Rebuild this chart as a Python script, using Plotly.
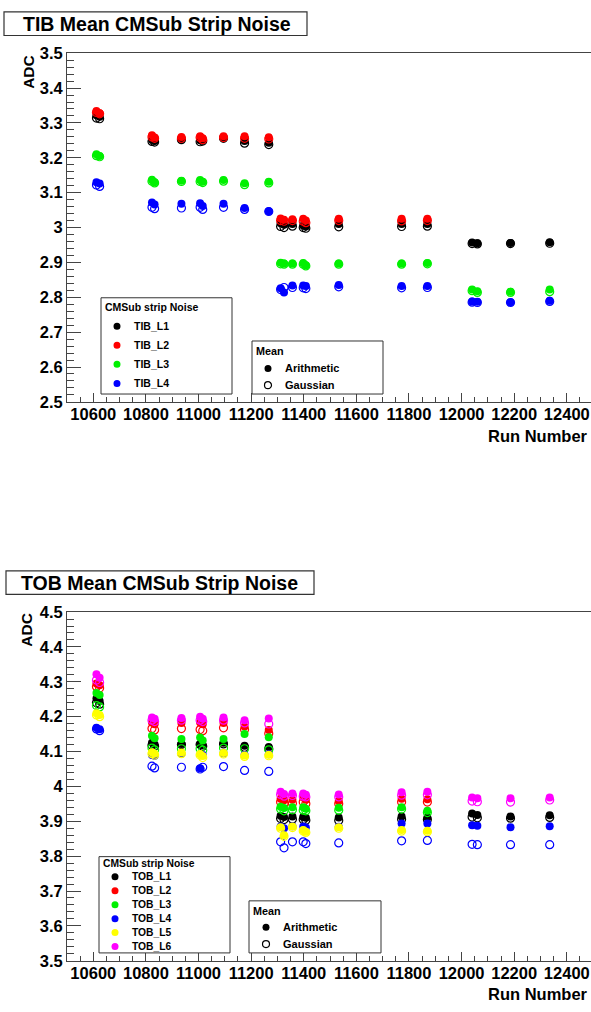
import plotly.graph_objects as go

W, H = 591, 1012

# ---------------- data ----------------
RUNS = [10612, 10624, 10823, 10833, 10935, 11006, 11016, 11095, 11175, 11267,
        11312, 11325, 11357, 11398, 11408, 11533, 11772, 11870, 12040, 12060, 12186, 12335]

TIB_L1_ARITH = [3.322, 3.318, 3.252, 3.248, 3.255, 3.250, 3.252, 3.258, 3.248, 3.243,
                3.012, 3.008, 3.010, 3.006, 3.003, 3.010, 3.010, 3.010, 2.957, 2.955, 2.956, 2.958]
TIB_L1_GAUSS = [3.314, 3.312, 3.247, 3.245, 3.252, 3.246, 3.248, 3.256, 3.242, 3.238,
                3.003, 3.000, 3.004, 3.000, 2.998, 3.002, 3.003, 3.004, 2.954, 2.953, 2.954, 2.955]
TIB_L2_ARITH = [3.334, 3.328, 3.265, 3.258, 3.260, 3.262, 3.256, 3.262, 3.262, 3.259,
                3.026, 3.022, 3.024, 3.025, 3.020, 3.025, 3.025, 3.025, None, None, None, None]
TIB_L2_GAUSS = [3.330, 3.326, 3.260, 3.256, 3.256, 3.258, 3.252, 3.258, 3.256, 3.254,
                3.020, 3.018, 3.020, 3.018, 3.014, 3.020, 3.019, 3.020, None, None, None, None]
TIB_L3_ARITH = [3.210, 3.205, 3.137, 3.130, 3.134, 3.136, 3.131, 3.136, 3.127, 3.131,
                2.899, 2.897, 2.897, 2.898, 2.892, 2.897, 2.897, 2.898, 2.822, 2.817, 2.816, 2.822]
TIB_L3_GAUSS = [3.206, 3.203, 3.133, 3.128, 3.132, 3.132, 3.129, 3.133, 3.123, 3.128,
                2.896, 2.895, 2.895, 2.895, 2.890, 2.895, 2.895, 2.896, 2.819, 2.814, 2.814, 2.816]
TIB_L4_ARITH = [3.130, 3.126, 3.072, 3.066, 3.068, 3.070, 3.062, 3.068, 3.056, 3.047,
                2.826, 2.814, 2.834, 2.834, 2.832, 2.835, 2.832, 2.832, 2.788, 2.787, 2.786, 2.790]
TIB_L4_GAUSS = [3.122, 3.118, 3.058, 3.054, 3.056, 3.058, 3.052, 3.058, 3.052, 3.046,
                2.822, 2.828, 2.828, 2.827, 2.825, 2.830, 2.827, 2.828, 2.786, 2.785, 2.785, 2.788]

TOB_L1_ARITH = [4.252, 4.245, 4.125, 4.120, 4.122, 4.122, 4.118, 4.125, 4.117, 4.113,
                3.916, 3.912, 3.914, 3.912, 3.910, 3.911, 3.914, 3.911, 3.922, 3.918, 3.914, 3.917]
TOB_L1_GAUSS = [4.240, 4.236, 4.118, 4.115, 4.120, 4.120, 4.115, 4.122, 4.112, 4.108,
                3.908, 3.905, 3.906, 3.905, 3.903, 3.902, 3.906, 3.905, 3.912, 3.910, 3.909, 3.911]
TOB_L2_ARITH = [4.295, 4.290, 4.183, 4.178, 4.182, 4.183, 4.178, 4.182, 4.172, 4.162,
                3.965, 3.960, 3.962, 3.968, 3.962, 3.958, 3.965, 3.963, None, None, None, None]
TOB_L2_GAUSS = [4.286, 4.282, 4.166, 4.162, 4.166, 4.163, 4.160, 4.168, 4.163, 4.152,
                3.955, 3.950, 3.952, 3.955, 3.950, 3.950, 3.955, 3.955, None, None, None, None]
TOB_L3_ARITH = [4.268, 4.262, 4.145, 4.138, 4.136, 4.140, 4.132, 4.136, 4.150, 4.141,
                3.942, 3.938, 3.940, 3.940, 3.936, 3.939, 3.940, 3.930, None, None, None, None]
TOB_L3_GAUSS = [4.232, 4.228, 4.110, 4.105, 4.108, 4.108, 4.104, 4.110, 4.108, 4.105,
                3.935, 3.930, 3.933, 3.932, 3.930, 3.932, 3.935, 3.925, None, None, None, None]
TOB_L4_ARITH = [4.168, 4.164, 4.090, 4.088, 4.094, 4.052, 4.090, 4.095, 4.090, 4.092,
                3.885, 3.880, 3.886, 3.885, 3.882, 3.884, 3.894, 3.894, 3.889, 3.887, 3.883, 3.886]
TOB_L4_GAUSS = [4.165, 4.160, 4.058, 4.053, 4.055, 4.050, 4.055, 4.057, 4.046, 4.043,
                3.841, 3.824, 3.841, 3.841, 3.836, 3.838, 3.844, 3.845, 3.834, 3.833, 3.833, 3.833]
TOB_L5_ARITH = [4.210, 4.205, 4.098, 4.094, 4.097, 4.093, 4.087, 4.096, 4.089, 4.091,
                3.883, 3.860, 3.885, 3.875, 3.870, 3.883, 3.875, 3.873, None, None, None, None]
TOB_L5_GAUSS = [4.205, 4.200, 4.094, 4.090, 4.094, 4.090, 4.083, 4.093, 4.086, 4.088,
                3.880, 3.857, 3.882, 3.872, 3.868, 3.880, 3.872, 3.870, None, None, None, None]
TOB_L6_ARITH = [4.322, 4.312, 4.198, 4.194, 4.196, 4.200, 4.194, 4.198, 4.190, 4.195,
                3.985, 3.978, 3.980, 3.980, 3.976, 3.977, 3.983, 3.985, 3.968, 3.966, 3.966, 3.968]
TOB_L6_GAUSS = [4.305, 4.298, 4.190, 4.186, 4.190, 4.190, 4.186, 4.190, 4.182, 4.179,
                3.977, 3.972, 3.974, 3.972, 3.970, 3.970, 3.975, 3.976, 3.958, 3.956, 3.955, 3.961]

TIB_NAMES = ["TIB_L1", "TIB_L2", "TIB_L3", "TIB_L4"]
TOB_NAMES = ["TOB_L1", "TOB_L2", "TOB_L3", "TOB_L4", "TOB_L5", "TOB_L6"]
COLORS = ["#000000", "#ff0000", "#00f000", "#0000ff", "#ffff00", "#ff00ff"]
MEAN_NAMES = ["Arithmetic", "Gaussian"]

TIB_SERIES = [(TIB_L1_ARITH, TIB_L1_GAUSS), (TIB_L2_ARITH, TIB_L2_GAUSS),
              (TIB_L3_ARITH, TIB_L3_GAUSS), (TIB_L4_ARITH, TIB_L4_GAUSS)]
TOB_SERIES = [(TOB_L1_ARITH, TOB_L1_GAUSS), (TOB_L2_ARITH, TOB_L2_GAUSS),
              (TOB_L3_ARITH, TOB_L3_GAUSS), (TOB_L4_ARITH, TOB_L4_GAUSS),
              (TOB_L5_ARITH, TOB_L5_GAUSS), (TOB_L6_ARITH, TOB_L6_GAUSS)]

FONT = "Liberation Sans"


def px(x):
    return x / W


def py(y):
    return 1 - y / H


fig = go.Figure()

for (series, names, xa, ya) in [(TIB_SERIES, TIB_NAMES, "x", "y"),
                                (TOB_SERIES, TOB_NAMES, "x2", "y2")]:
    for i, (ar, ga) in enumerate(series):
        c = COLORS[i]
        fig.add_trace(go.Scatter(x=RUNS, y=ar, mode="markers", name=names[i],
                                 xaxis=xa, yaxis=ya, showlegend=False,
                                 marker=dict(symbol="circle", size=8, color=c, line=dict(width=0))))
        fig.add_trace(go.Scatter(x=RUNS, y=ga, mode="markers", name=names[i] + " Gaussian",
                                 xaxis=xa, yaxis=ya, showlegend=False,
                                 marker=dict(symbol="circle-open", size=8, color=c, line=dict(width=1.2, color=c))))

tickfont = dict(family=FONT, size=16.5, color="black", weight="bold")
axcol = "#444444"


def xaxis_cfg(anchor):
    return dict(domain=[px(67), 1], range=[10500, 12492], anchor=anchor,
                showgrid=False, zeroline=False, showline=True, linecolor=axcol, linewidth=1,
                mirror=True, ticks="inside", ticklen=9, tickcolor=axcol, tickwidth=1,
                tick0=10600, dtick=200, tickformat="d", tickfont=tickfont,
                ticklabelstandoff=-3,
                minor=dict(ticks="inside", ticklen=5, dtick=50, tickcolor=axcol, showgrid=False))


def yaxis_cfg(anchor, dom, rng):
    return dict(domain=dom, range=rng, anchor=anchor,
                showgrid=False, zeroline=False, showline=True, linecolor=axcol, linewidth=1,
                ticks="inside", ticklen=14, tickcolor=axcol, tickwidth=1,
                dtick=0.1, tickfont=tickfont,
                minor=dict(ticks="inside", ticklen=7, dtick=0.02, tickcolor=axcol, showgrid=False))


fig.update_layout(
    width=W, height=H, margin=dict(l=0, r=0, t=0, b=0),
    paper_bgcolor="white", plot_bgcolor="white", showlegend=False,
    xaxis=xaxis_cfg("y"),
    yaxis=yaxis_cfg("x", [py(400), py(45)], [2.5, 3.5]),
    xaxis2=xaxis_cfg("y2"),
    yaxis2=yaxis_cfg("x2", [py(969), py(614)], [3.5, 4.5]),
)

shapes = []
annotations = []


def box(x0, y0, x1, y1, lw=1):
    shapes.append(dict(type="rect", xref="paper", yref="paper", x0=px(x0), x1=px(x1),
                       y0=py(y1), y1=py(y0), line=dict(color="#333333", width=lw),
                       fillcolor="white", layer="above"))


def text(x, y, s, size, xanchor="left", angle=0):
    annotations.append(dict(x=px(x), y=py(y), xref="paper", yref="paper", text=s,
                            showarrow=False, xanchor=xanchor, yanchor="middle", textangle=angle,
                            borderpad=0,
                            font=dict(family=FONT, size=size, color="black", weight="bold")))


def marker(x, y, color, open_=False, d=7):
    shapes.append(dict(type="circle", xref="paper", yref="paper",
                       xsizemode="pixel", ysizemode="pixel",
                       xanchor=px(x), yanchor=py(y), x0=-d / 2, x1=d / 2, y0=-d / 2, y1=d / 2,
                       fillcolor="rgba(0,0,0,0)" if open_ else color,
                       line=dict(color=color, width=1.2 if open_ else 0), layer="above"))


# titles
box(4, 3, 307, 27, lw=1.2)
text(22, 15, "TIB Mean CMSub Strip Noise", 19.5)
box(6, 572, 314, 596, lw=1.2)
text(20, 584, "TOB Mean CMSub Strip Noise", 19.5)

# axis titles
text(29, 64, "ADC", 15.5, xanchor="center", angle=-90)
text(589, 435, "Run Number", 16.5, xanchor="right")
text(27, 632, "ADC", 15.5, xanchor="center", angle=-90)
text(589, 1003, "Run Number", 16.5, xanchor="right")

# TIB legends
box(101, 294, 232, 392)
text(104, 303, "CMSub strip Noise", 10.5)
for i, nm in enumerate(TIB_NAMES):
    yy = 323 + i * 19.4
    marker(117, yy, COLORS[i])
    text(133, yy, nm, 10.5)
box(252, 338, 383, 392)
text(255, 348, "Mean", 10.8)
for j, nm in enumerate(MEAN_NAMES):
    yy = 366 + j * 17
    marker(268, yy, "#000000", open_=(j == 1))
    text(284, yy, nm, 11)

# TOB legends
box(99, 863, 230, 961)
text(102, 870, "CMSub strip Noise", 10.3)
for i, nm in enumerate(TOB_NAMES):
    yy = 883.5 + i * 14.2
    marker(115, yy, COLORS[i])
    text(131, yy, nm, 10.3)
box(249, 908, 381, 961)
text(252, 918, "Mean", 10.8)
for j, nm in enumerate(MEAN_NAMES):
    yy = 935 + j * 17
    marker(266, yy, "#000000", open_=(j == 1))
    text(282, yy, nm, 11)

fig.update_layout(shapes=shapes, annotations=annotations)
fig.write_html("out.html")
